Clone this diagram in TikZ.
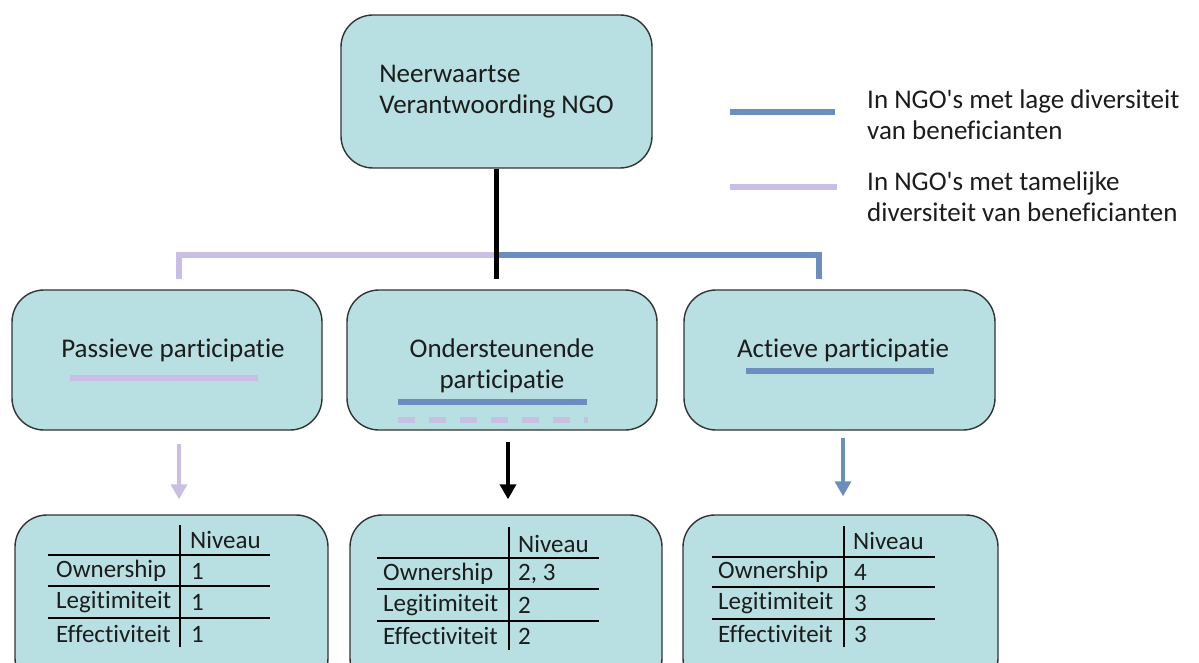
\documentclass[tikz,border=0pt]{standalone}
\usepackage{fontspec}
\setmainfont{Carlito}[Ligatures={NoCommon,NoContextual}]
\usetikzlibrary{arrows.meta}
\definecolor{boxfill}{HTML}{B8DFE2}
\definecolor{lowblue}{HTML}{6C8EBF}
\definecolor{lav}{HTML}{C9BEE3}
\definecolor{ink}{HTML}{1C1C1C}
\definecolor{edge}{HTML}{333333}

\begin{document}
\begin{tikzpicture}[x=1pt,y=-1pt,
  card/.style={draw=edge, line width=1.4pt, fill=boxfill, rounded corners=32pt},
  big/.style={font=\fontsize{27}{31}\selectfont, text=ink, inner sep=0pt},
  small/.style={font=\fontsize{25}{29}\selectfont, text=ink, inner sep=0pt},
  lavline/.style={draw=lav, line width=5.5pt},
  blueline/.style={draw=lowblue, line width=5.5pt},
  rule/.style={draw=black, line width=1.4pt},
  arr/.style={line width=3.5pt, -{Triangle[width=16pt,length=15pt]}}]
\useasboundingbox (0,0) rectangle (1199,663);
\clip (0,0) rectangle (1199,663);

% top box
\node[card, minimum width=311pt, minimum height=153pt, big, align=left] (top) at (496.5,91.5)
  {Neerwaartse\\Verantwoording NGO};

% middle row
\node[card, minimum width=310pt, minimum height=140pt] (pbox) at (167,360) {};
\node[card, minimum width=310pt, minimum height=140pt] (obox) at (502,360) {};
\node[card, minimum width=311pt, minimum height=140pt] (abox) at (839.5,360) {};
\node[big] (plabel) at (173,350) {Passieve participatie};
\node[big, align=center] (olabel) at (502,365.5) {Ondersteunende\\participatie};
\node[big] (alabel) at (843,350) {Actieve participatie};

% markers under the labels
\draw[lavline] (70,378) -- (258,378);
\draw[blueline] (398,402) -- (587,402);
\draw[lavline, dash pattern=on 17pt off 14pt] (398,420) -- (588,420);
\draw[blueline] (746,371) -- (934,371);

% bottom row
\node[card, minimum width=313pt, minimum height=175pt] (ptab) at (171.5,602.5) {};
\node[card, minimum width=312pt, minimum height=175pt] (otab) at (506,602.5) {};
\node[card, minimum width=315pt, minimum height=175pt] (atab) at (840.5,602.5) {};

% left table
\draw[rule] (180,525) -- (180,647);
\draw[rule] (48,555) -- (270,555);
\draw[rule] (48,586) -- (270,586);
\draw[rule] (48,618) -- (270,618);
\node[small, anchor=west] (pniv) at (190,540) {Niveau};
\node[small, anchor=west] (pown) at (56,571) {Ownership};
\node[small, anchor=west] (pleg) at (56,602) {Legitimiteit};
\node[small, anchor=west] (peff) at (56,634) {Effectiviteit};
\node[small, anchor=west] (pv1) at (191,571) {1};
\node[small, anchor=west] (pv2) at (191,602) {1};
\node[small, anchor=west] (pv3) at (191,634) {1};

% middle table
\draw[rule] (509,527) -- (509,650);
\draw[rule] (377,558) -- (599,558);
\draw[rule] (377,589) -- (599,589);
\draw[rule] (377,621) -- (599,621);
\node[small, anchor=west] (oniv) at (518,544) {Niveau};
\node[small, anchor=west] (oown) at (383,574) {Ownership};
\node[small, anchor=west] (oleg) at (383,605) {Legitimiteit};
\node[small, anchor=west] (oeff) at (383,636) {Effectiviteit};
\node[small, anchor=west] (ov1) at (518,574) {2, 3};
\node[small, anchor=west] (ov2) at (518,605) {2};
\node[small, anchor=west] (ov3) at (518,636) {2};

% right table
\draw[rule] (844,526) -- (844,647);
\draw[rule] (712,557) -- (935,557);
\draw[rule] (712,587) -- (935,587);
\draw[rule] (712,619) -- (935,619);
\node[small, anchor=west] (aniv) at (853,541) {Niveau};
\node[small, anchor=west] (aown) at (718,572) {Ownership};
\node[small, anchor=west] (aleg) at (718,603) {Legitimiteit};
\node[small, anchor=west] (aeff) at (718,634) {Effectiviteit};
\node[small, anchor=west] (av1) at (854,572) {4};
\node[small, anchor=west] (av2) at (854,603) {3};
\node[small, anchor=west] (av3) at (854,634) {3};

% branching connector
\coordinate (hub) at (496.5,255);
\coordinate (stem) at (496.5,279);
\coordinate (pdrop) at (179,279);
\coordinate (adrop) at (819,279);
\draw[lavline] (hub) -| (pdrop);
\draw[blueline] (hub) -| (adrop);
\draw[line width=5pt, black] (top.south) -- (stem);

% arrows down to the tables
\draw[arr, lav] ([xshift=12pt,yshift=-13pt]pbox.south) -- ([xshift=7.5pt,yshift=15pt]ptab.north);
\draw[arr, black] ([xshift=6pt,yshift=-11pt]obox.south) -- ([xshift=2pt,yshift=15pt]otab.north);
\draw[arr, lowblue] ([xshift=3.5pt,yshift=-7pt]abox.south) -- ([xshift=2.5pt,yshift=18pt]atab.north);

% legend
\draw[blueline] (730,112) -- (835,112);
\draw[lavline] (730,187) -- (837,187);
\node[big, anchor=west, align=left] (leg1) at (867,115)
  {In NGO\textquotesingle s met lage diversiteit\\van beneficianten};
\node[big, anchor=west, align=left] (leg2) at (867,197)
  {In NGO\textquotesingle s met tamelijke\\diversiteit van beneficianten};
\end{tikzpicture}
\end{document}
